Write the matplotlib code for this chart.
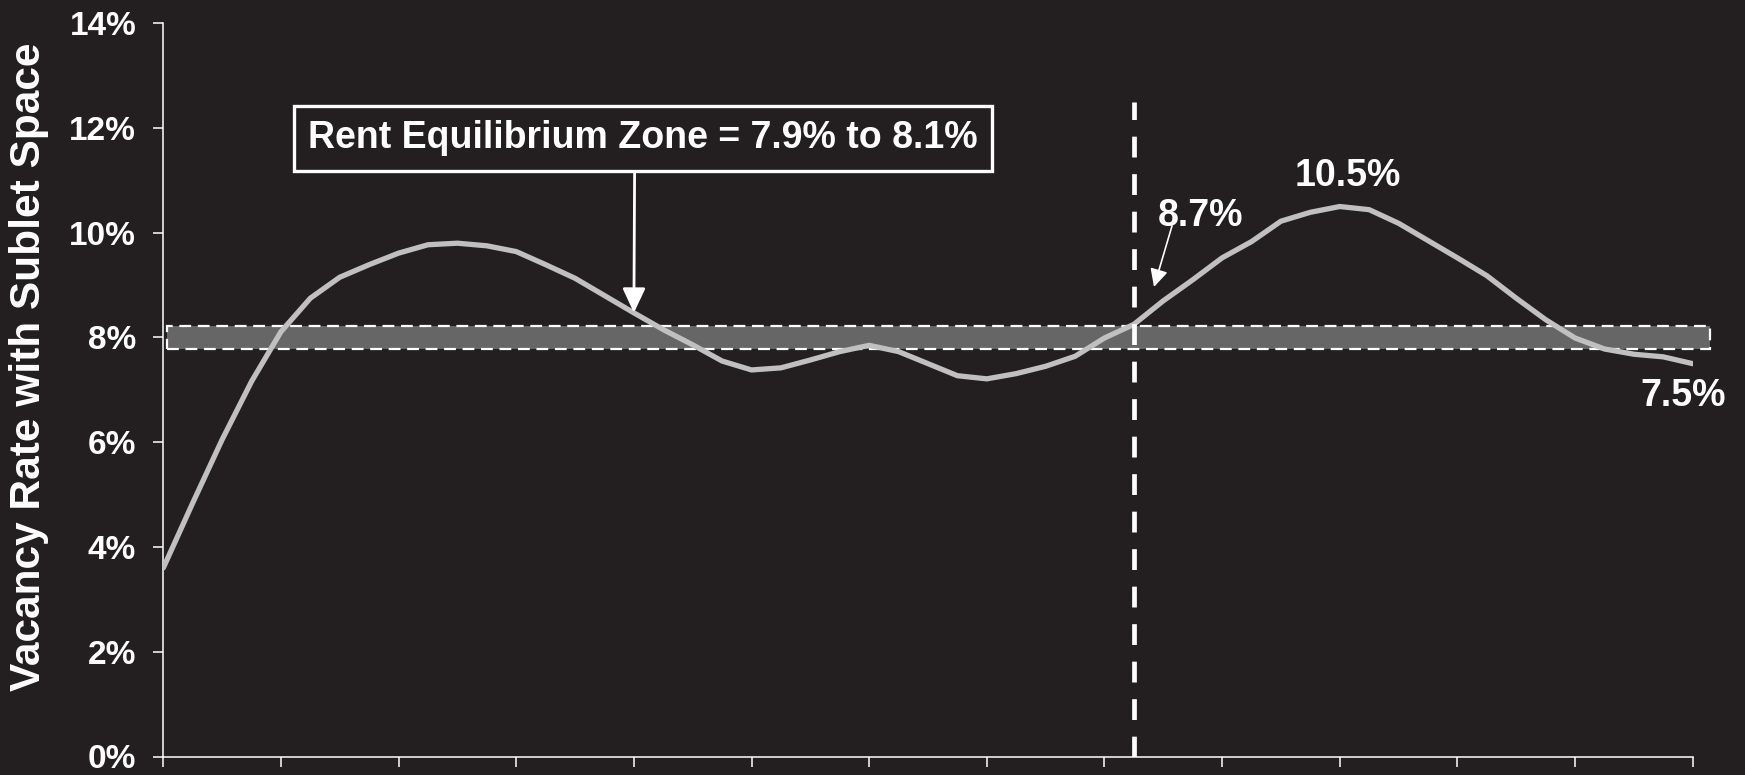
import numpy as np
import matplotlib.pyplot as plt
from matplotlib.patches import Rectangle
from matplotlib.transforms import offset_copy

plt.rcParams['font.family'] = ['Liberation Sans', 'DejaVu Sans']
plt.rcParams['font.weight'] = 'bold'
plt.rcParams['lines.scale_dashes'] = False

BG = '#231f20'

# quarterly vacancy rate (%), 13 years
rate = [3.60, 4.84, 6.05, 7.16, 8.11, 8.75, 9.15, 9.39, 9.61, 9.77,
        9.80, 9.75, 9.64, 9.39, 9.13, 8.80, 8.47, 8.15, 7.86, 7.55,
        7.38, 7.42, 7.57, 7.73, 7.85, 7.73, 7.50, 7.27, 7.21, 7.31,
        7.45, 7.64, 7.99, 8.25, 8.70, 9.10, 9.52, 9.83, 10.22, 10.39,
        10.50, 10.44, 10.18, 9.85, 9.52, 9.18, 8.75, 8.34, 7.99, 7.78,
        7.68, 7.63, 7.50]
quarters = np.arange(len(rate))
year_ticks = np.arange(0, len(rate), 4)
y_ticks = [0, 2, 4, 6, 8, 10, 12, 14]
y_ticklabels = ['%d%%' % v for v in y_ticks]

zone_low, zone_high = 7.9, 8.1
forecast_start = 33      # quarter where the forecast begins
zone_arrow_q = 16        # where the zone callout points
i_start = 34             # 8.7%
i_peak = 40              # 10.5%
i_end = len(rate) - 1    # 7.5%

fig = plt.figure(figsize=(17.45, 7.75), dpi=100, facecolor=BG)
ax = fig.add_axes([163.3 / 1745, 18.5 / 775, 1529.4 / 1745, 733.3 / 775])
ax.set_facecolor(BG)

# equilibrium band
pad = 0.12
band = Rectangle((0.13, zone_low - pad), len(rate) - 1 + 0.45, zone_high - zone_low + 2 * pad,
                 facecolor='#666666', edgecolor='white', linewidth=1.6,
                 linestyle=(0, (8.5, 4.8)), clip_on=False, zorder=2)
ax.add_patch(band)

ax.plot(quarters, rate, color='#c0c0c0', linewidth=3.8, solid_capstyle='round', zorder=3)

ax.plot([forecast_start, forecast_start], [0, 12.5], color='white', linewidth=3.4,
        dashes=(15, 12), zorder=4)

ax.set_xlim(0, len(rate) - 1)
ax.set_ylim(0, 14)
ax.set_xticks(year_ticks)
ax.set_xticklabels([])
ax.set_yticks(y_ticks)
ax.set_yticklabels(y_ticklabels, fontsize=24, color='white', fontweight='bold')
ax.tick_params(axis='both', colors='white', length=7.5, width=1.1, direction='out')
ax.tick_params(axis='y', pad=12)
for s in ['top', 'right']:
    ax.spines[s].set_visible(False)
for s in ['left', 'bottom']:
    ax.spines[s].set_color('white')
    ax.spines[s].set_linewidth(1.1)

ax.set_ylabel('Vacancy Rate with Sublet Space', fontsize=30.5, color='white', fontweight='bold')
ax.yaxis.set_label_coords(-0.075, 0.531)

# callout box for the equilibrium zone
ax.annotate('Rent Equilibrium Zone = %.1f%% to %.1f%%' % (zone_low, zone_high),
            xy=(zone_arrow_q, rate[zone_arrow_q]), xytext=(zone_arrow_q + 0.3, 11.8),
            ha='center', va='center', fontsize=27, color='white', fontweight='bold',
            bbox=dict(boxstyle='square,pad=0.38', facecolor=BG, edgecolor='white', linewidth=2.4),
            arrowprops=dict(arrowstyle='-|>,head_length=0.75,head_width=0.35', color='white',
                            linewidth=2, shrinkA=0, shrinkB=0, relpos=(0.488, 0),
                            mutation_scale=20),
            zorder=5)

# point labels
ax.annotate('%.1f%%' % rate[i_peak], xy=(i_peak, rate[i_peak]), xytext=(6, 22),
            textcoords='offset points', ha='center', va='center',
            fontsize=27, color='white', fontweight='bold')
ax.annotate('%.1f%%' % rate[i_end], xy=(i_end, rate[i_end]), xytext=(-7, -23),
            textcoords='offset points', ha='center', va='center',
            fontsize=27, color='white', fontweight='bold', annotation_clip=False)
ax.annotate('%.1f%%' % rate[i_start], xy=(i_start, rate[i_start]), xytext=(27, 61),
            textcoords='offset points', ha='center', va='center',
            fontsize=27, color='white', fontweight='bold')
tip = offset_copy(ax.transData, fig=fig, x=-6.7, y=10, units='points')
ax.annotate('', xy=(i_start, rate[i_start]), xycoords=tip,
            xytext=(13, 44), textcoords='offset points',
            arrowprops=dict(arrowstyle='-|>,head_length=0.6,head_width=0.3', color='white',
                            linewidth=1.2, shrinkA=0, shrinkB=0, mutation_scale=18))

fig.savefig('out.png', dpi=100, facecolor=BG)
